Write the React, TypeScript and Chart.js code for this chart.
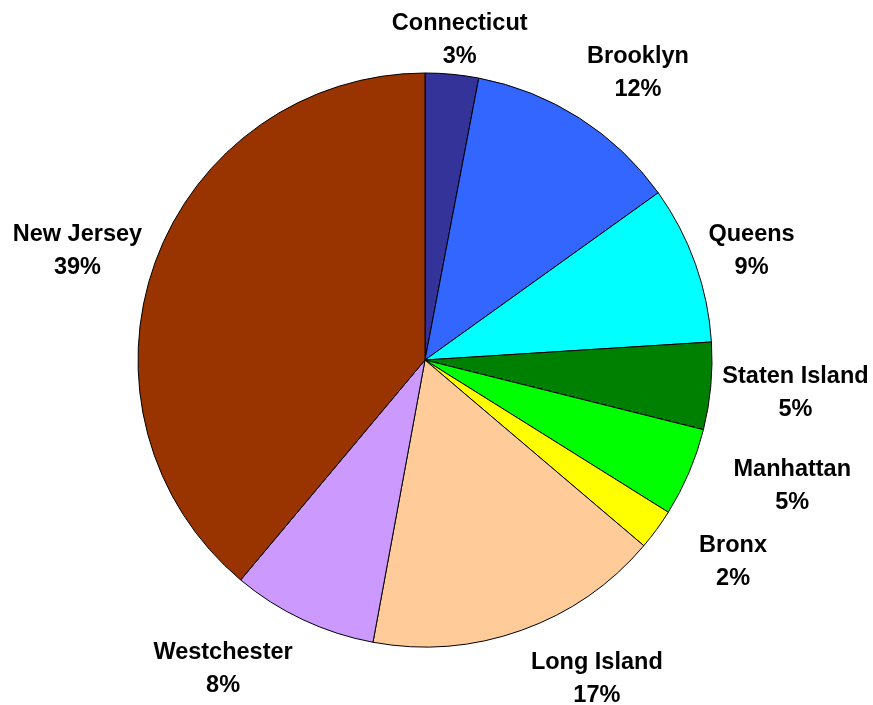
import React, { useEffect, useRef } from "react";
import { Chart, registerables } from "chart.js";

Chart.register(...registerables);

const categories = [
  "Connecticut",
  "Brooklyn",
  "Queens",
  "Staten Island",
  "Manhattan",
  "Bronx",
  "Long Island",
  "Westchester",
  "New Jersey",
];
const shares = [3.0, 12.1, 8.9, 4.9, 5.0, 2.3, 16.7, 8.2, 38.9];
const sliceColors = [
  "#333399",
  "#3366FF",
  "#00FFFF",
  "#008000",
  "#00FF00",
  "#FFFF00",
  "#FFCC99",
  "#CC99FF",
  "#993300",
];
// label placement relative to each slice: angular shift (deg) from the slice middle, distance as a fraction of the radius
const labelShiftDeg = [0.8, 4.0, 1.1, -0.1, -4.1, -2.9, -8.7, 8.0, -2.6];
const labelDistance = [1.12, 1.245, 1.2, 1.296, 1.353, 1.284, 1.262, 1.285, 1.269];

const labelPlugin = {
  id: "outerLabels",
  afterDatasetsDraw(chart: any) {
    const ctx = chart.ctx;
    const meta = chart.getDatasetMeta(0);
    const data = chart.data.datasets[0].data as number[];
    const total = data.reduce((a, b) => a + b, 0);
    ctx.save();
    ctx.fillStyle = "#000000";
    ctx.font = "bold 23.5px 'Liberation Sans', Arial, sans-serif";
    ctx.textAlign = "center";
    ctx.textBaseline = "middle";
    meta.data.forEach((arc: any, i: number) => {
      const { x, y, startAngle, endAngle, outerRadius } = arc.getProps(
        ["x", "y", "startAngle", "endAngle", "outerRadius"],
        true
      );
      const mid = (startAngle + endAngle) / 2 + (labelShiftDeg[i] * Math.PI) / 180;
      const r = outerRadius * labelDistance[i];
      const lx = x + Math.cos(mid) * r;
      const ly = y + Math.sin(mid) * r;
      const pct = Math.round((data[i] / total) * 100) + "%";
      ctx.fillText(String(chart.data.labels[i]), lx, ly - 16.5);
      ctx.fillText(pct, lx, ly + 16.5);
    });
    ctx.restore();
  },
};

export default function App() {
  const ref = useRef<HTMLCanvasElement | null>(null);
  useEffect(() => {
    if (!ref.current) return;
    const chart = new Chart(ref.current, {
      type: "pie",
      data: {
        labels: categories,
        datasets: [
          {
            data: shares,
            backgroundColor: sliceColors,
            borderColor: "#000000",
            borderWidth: 1,
          },
        ],
      },
      options: {
        animation: false,
        responsive: true,
        maintainAspectRatio: false,
        layout: {
          padding: { left: 129.5, top: 64.5, right: 160.5, bottom: 57.5 },
        },
        plugins: {
          legend: { display: false },
          tooltip: { enabled: false },
        },
      },
      plugins: [labelPlugin],
    });
    return () => chart.destroy();
  }, []);
  return (
    <div style={{ position: "absolute", left: 8, top: 8, width: 865, height: 697 }}>
      <canvas ref={ref} />
    </div>
  );
}
